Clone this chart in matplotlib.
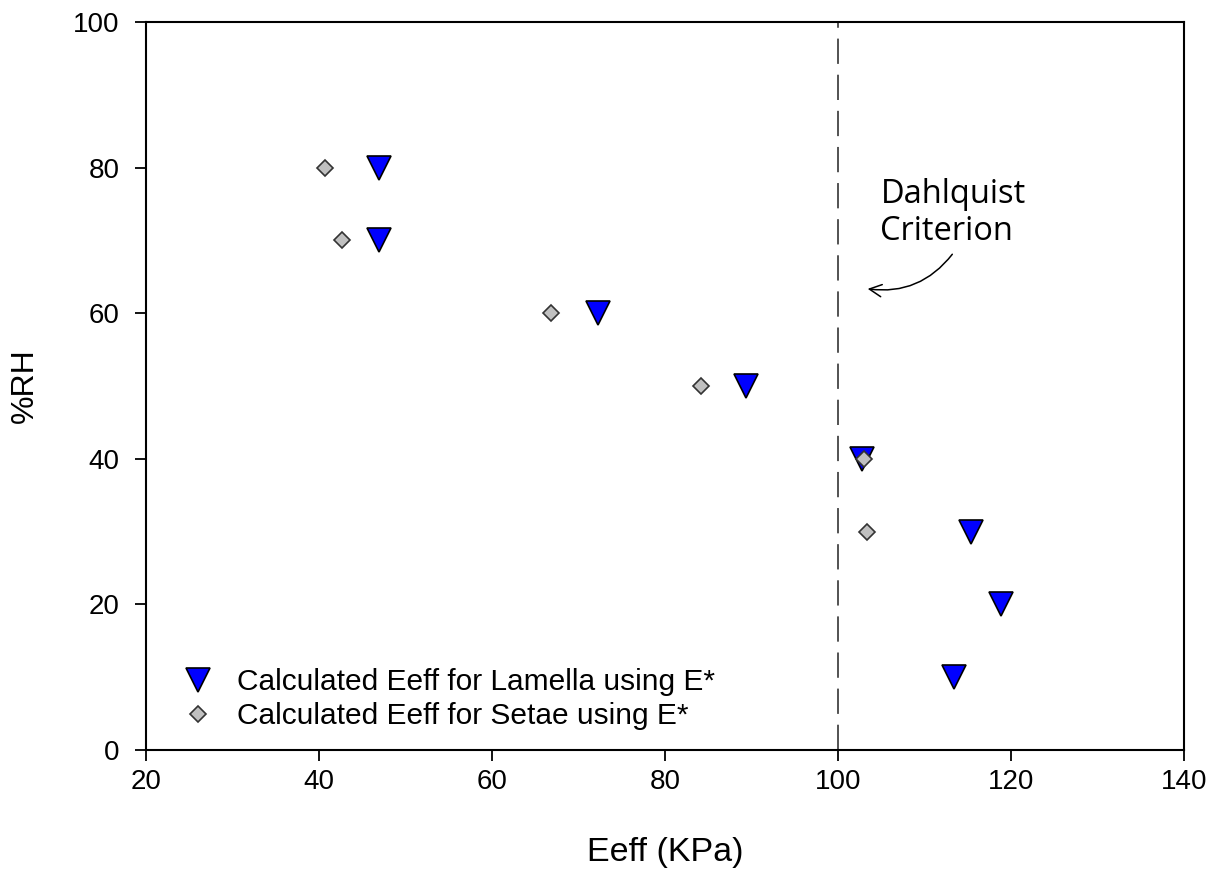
import matplotlib.pyplot as plt

# %RH levels and effective modulus (KPa) for each sample set
rh_lamella = [80, 70, 60, 50, 40, 30, 20, 10]
eeff_lamella = [46.9, 46.9, 72.2, 89.3, 102.8, 115.4, 118.8, 113.4]

rh_setae = [80, 70, 60, 50, 40, 30]
eeff_setae = [40.7, 42.6, 66.8, 84.2, 103.0, 103.3]

dahlquist = 100

plt.rcParams['font.family'] = ['Liberation Sans', 'DejaVu Sans']

fig = plt.figure(figsize=(12.22, 8.73), dpi=100)
ax = fig.add_axes([0.1195, 0.1409, 0.8495, 0.8339])

ax.axvline(dahlquist, color='#444444', lw=1.3, dashes=(14, 6), zorder=1)

ax.plot(eeff_lamella, rh_lamella, 'v', ms=17, mfc='#0000ff', mec='black',
        mew=1.2, ls='none', label='Calculated Eeff for Lamella using E*', zorder=3)
ax.plot(eeff_setae, rh_setae, 'D', ms=8, mfc='#c0c0c0', mec='#333333',
        mew=1.2, ls='none', label='Calculated Eeff for Setae using E*', zorder=4)

ax.set_xlim(20, 140)
ax.set_ylim(0, 100)
ax.set_xticks(range(20, 141, 20))
ax.set_yticks(range(0, 101, 20))
ax.tick_params(direction='out', length=8, width=1.3, labelsize=20, pad=6)
ax.tick_params(axis='y', pad=11)
for s in ax.spines.values():
    s.set_linewidth(1.5)

ax.set_xlabel('Eeff (KPa)', fontsize=24.5, labelpad=30)
ax.set_ylabel('%RH', fontsize=23, labelpad=24)

ax.text(104.9, 69.0, 'Dahlquist\nCriterion', fontsize=23.5, family='Open Sans',
        va='bottom', ha='left', linespacing=1.15)
ax.annotate('', xy=(103.1, 63.4), xytext=(113.4, 68.4),
            arrowprops=dict(arrowstyle='->', lw=1.1, color='black',
                            connectionstyle='arc3,rad=-0.3',
                            mutation_scale=22))

ax.legend(loc='lower left', bbox_to_anchor=(-0.01, -0.026), frameon=False,
          fontsize=21.5, handletextpad=0.5, borderaxespad=0.9,
          labelspacing=0.2, handlelength=1.6)

fig.savefig('out.png', dpi=100)
